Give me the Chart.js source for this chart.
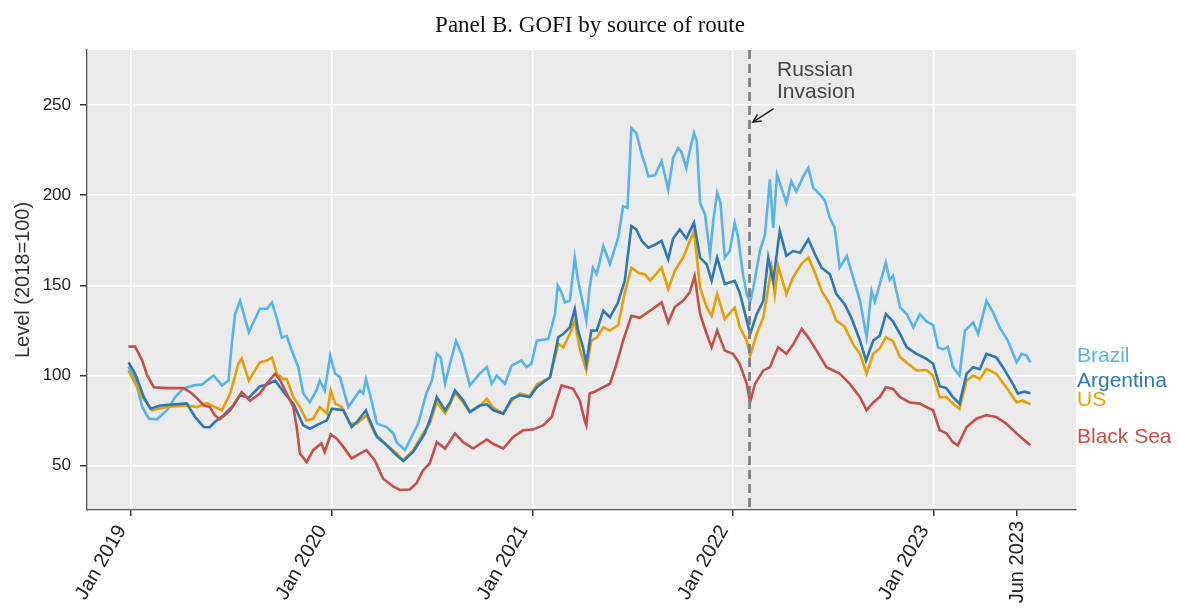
<!DOCTYPE html>
<html><head><meta charset="utf-8">
<script src="https://cdn.jsdelivr.net/npm/chart.js@4.4.1/dist/chart.umd.min.js"></script>
<style>html,body{margin:0;padding:0;background:#fff}canvas{display:block}</style>
</head><body>
<canvas id="c" width="1178" height="611"></canvas>
<script>
// ---------- DATA (x = days since 1 Jan 2019, y = level, 2018=100) ----------
const title = 'Panel B. GOFI by source of route';
const yTitle = 'Level (2018=100)';
const seriesNames = ['Brazil', 'Argentina', 'US', 'Black Sea'];

const brazilDays = [-4,8,21,33,48,66,81,96,115,130,139,151,166,178,184,190,199,215,235,248,257,266,275,284,293,305,314,326,338,344,353,363,372,381,396,417,423,428,435,448,466,478,484,499,514,523,538,548,557,564,572,581,592,602,617,635,648,657,666,681,693,711,720,729,739,760,772,777,784,790,799,808,814,823,829,835,841,848,860,872,887,896,904,911,920,930,936,942,954,966,972,978,987,996,1002,1011,1017,1025,1030,1036,1045,1054,1060,1067,1073,1081,1090,1099,1105,1114,1121,1127,1133,1145,1154,1163,1169,1176,1193,1202,1211,1224,1233,1242,1254,1263,1272,1281,1290,1303,1311,1327,1339,1348,1354,1363,1374,1381,1387,1400,1412,1424,1436,1448,1460,1469,1478,1487,1496,1508,1518,1533,1542,1551,1557,1569,1581,1596,1612,1621,1630,1637];
const brazilVals = [105,98,82.5,76,75.7,80.7,88,92.8,94.5,95,97.2,100,94.5,97.2,117.7,134,141.4,124,137,137,140.5,131.5,121,122,113.8,104.6,90,85.2,91.7,97.2,91.7,111,101,99,82.5,91.7,90,98,90,73.3,71.4,67.8,63,58.6,67.8,73.3,90,97.2,112,110,95.4,106.5,119.3,112,94.5,101,104.6,95.4,100,95.4,105.5,108.3,104.6,106.5,119.3,120.3,134,150,146,140.5,141.4,165.4,152.5,139.6,130.4,148.8,159.8,156.2,171.8,161.7,176.4,193.9,193,237.2,234.4,222.5,217,210.5,211,218.8,211,203.1,220.6,226.1,224,215.1,224.3,234.4,230,195.7,189.3,167.2,185.6,201.3,196,165.4,169.1,184.7,177,156.2,145.1,140.5,148.8,169.1,178,208.7,181.9,211.4,195.7,207.7,202,210.5,215.1,204,200.4,197,187.5,181.9,159.8,166.3,158,141.4,121.2,147,141,150.7,162.6,153,155.2,137.7,134.1,126.7,134,130,128,115.6,114.5,116,104.6,100,124.9,129.4,123,134,141.4,135,126.7,119.3,107.3,112,111,107.3];

const argentinaDays = [-4,8,24,36,54,80,102,117,133,144,153,169,187,199,215,235,248,263,278,296,314,326,344,357,366,387,402,414,428,435,448,466,484,496,514,535,544,557,572,581,590,605,617,635,648,660,678,693,708,726,739,763,778,787,799,808,814,823,829,838,848,860,872,886,899,911,920,930,942,954,966,978,987,999,1011,1025,1036,1048,1057,1067,1081,1099,1108,1121,1127,1139,1151,1160,1169,1181,1193,1205,1218,1233,1245,1257,1272,1284,1299,1311,1327,1338,1351,1363,1374,1387,1400,1412,1430,1448,1460,1472,1484,1496,1508,1521,1533,1545,1557,1575,1587,1605,1614,1626,1637];
const argentinaVals = [107.3,101,88,81.6,83.4,84,84.5,77,71.4,71.3,74.2,78,83.4,89,87.7,94,95,97.2,90.8,84.4,72.4,70.5,73.3,75.1,81.6,80.7,71.4,75.1,80.7,75.1,65.9,61.3,55.8,52.6,57.6,67.8,75,88,80.7,85,91.7,86.2,79.7,83.4,84,80.7,78.8,87.1,89,88,93.5,99,121.2,123,126.7,136.8,124.9,115.6,106.5,124.9,125,135.9,132.2,140,152.5,182.9,181,174.6,170.9,172.5,174.6,164.5,176,181,176,184.7,165.4,161.7,152.5,165.4,150.7,152.5,146,130.4,123,134,141.4,165.4,152,180.1,166.3,169,168,175.5,167.2,159.8,156.2,145.1,139.6,132.2,119.3,108.3,119.3,122,134.1,130,123,115.6,112,109.2,106.5,94,93,88,84.4,101,104.6,103.5,112,110,104.6,95.4,90,91,90.2];

const usDays = [-4,21,39,66,102,121,139,153,166,181,196,202,215,235,248,257,266,278,284,296,308,320,332,344,357,364,372,384,399,411,429,444,466,484,496,514,532,544,557,572,581,590,605,617,635,648,660,678,693,708,726,739,763,778,787,799,808,817,829,838,848,860,872,887,899,911,924,936,945,966,978,990,1005,1014,1025,1036,1048,1057,1067,1081,1099,1108,1121,1127,1139,1151,1157,1166,1172,1178,1193,1205,1220,1233,1245,1257,1272,1284,1299,1314,1327,1339,1351,1363,1374,1387,1400,1412,1430,1448,1460,1472,1484,1496,1508,1521,1533,1545,1557,1575,1593,1612,1623,1637];
const usVals = [102.8,88,80.7,82.5,83.4,82.5,84.7,82.5,80.7,90,106.6,109.4,97.2,107.3,108.3,110,101,98,98,88,82.5,75.1,76,82.5,78.8,91.7,84.4,82.5,73.3,73.3,78,67.8,61.3,56.7,53,58.6,67.8,73.3,85.2,79,84,90.5,85,79.7,83,87.1,82,78.8,86,90,88.5,95,99,117.5,115.6,123,130.4,114.7,102.8,119.3,121,126.7,124.9,128,146,159.8,157,156,152.5,159.8,147.9,158,165.4,172,180.1,148.8,137.7,133,145.1,131.3,137.7,127,119.3,111,123,132.2,143,159.8,145.1,160.8,145.1,154.3,161.7,165.4,157,147,139.6,130.4,127,117.5,112,101,112,115,121.2,119,110.1,107,102.8,103,100,88,88,84.4,81.6,97.2,100,98,103.7,101,93.5,85.2,86,84];

const blackSeaDays = [-4,8,21,30,42,66,96,108,121,133,144,153,162,181,202,217,235,248,263,272,296,302,308,320,332,347,353,364,375,387,402,417,429,444,459,478,490,508,520,532,544,557,572,590,605,623,648,660,678,696,714,732,751,766,775,784,805,817,826,829,835,844,860,872,884,896,911,926,945,966,978,990,1005,1017,1026,1036,1048,1057,1067,1081,1096,1108,1121,1127,1136,1151,1163,1178,1193,1205,1221,1233,1248,1266,1290,1308,1327,1339,1351,1363,1374,1387,1400,1418,1436,1448,1460,1472,1484,1496,1505,1521,1539,1557,1575,1593,1612,1637];
const blackSeaVals = [116,116,108.3,100,93.5,93,93,90.8,87.3,83.4,82.5,78,75.7,80.7,90.8,86,90,95.6,101,97.2,82.5,71.4,56.7,52,58.6,62.3,57.6,67.4,65,60.4,54,56.7,58.6,53,42.9,38.3,36.5,36.8,40.2,47.5,51.2,63,59.5,67.8,63,59.5,64.5,62,59.5,65.9,69.6,70,72.4,77,86.2,94.5,92.6,86.2,75.1,72.4,90,91,93.5,95.4,106.5,119.3,133.1,132,135.9,140.5,129.4,138,141.4,146,155.2,134.1,123,115.6,124.9,113.8,112,106.5,95.4,85.2,95.4,102.8,104.5,115.6,112,117,125.8,121,113.8,104.6,101,95.5,88,80.7,85,88,93.5,92.5,88,85,84.4,82.5,80.7,69.6,68,63,61.3,71.4,76,78,77,73.3,67.8,61.3];

const tickDays = [0, 365, 731, 1096, 1461, 1612];
const tickLabels = ['Jan 2019', 'Jan 2020', 'Jan 2021', 'Jan 2022', 'Jan 2023', 'Jun 2023'];
const yTicks = [50, 100, 150, 200, 250];
const invasionDay = 1126;
const invasionText = ['Russian', 'Invasion'];

// ---------- STYLE ----------
const SANS = '"Liberation Sans", Arial, Helvetica, sans-serif';
const SERIF = '"Liberation Serif", "Times New Roman", serif';
const COLORS = ['#56B4E9', '#2a78b5', '#E69F00', '#c4504a'];
const LABEL_LEVELS = [107.6, 93.8, 83.1, 62.4];
const ORDERS = [4, 2, 3, 1];

function pts(d, v) { return d.map((x, i) => ({ x: x, y: v[i] })); }
const seriesData = [
  pts(brazilDays, brazilVals),
  pts(argentinaDays, argentinaVals),
  pts(usDays, usVals),
  pts(blackSeaDays, blackSeaVals)
];

const bgPlugin = {
  id: 'bg',
  beforeDraw(chart) {
    const { ctx, chartArea: a } = chart;
    ctx.save();
    ctx.fillStyle = '#ffffff';
    ctx.fillRect(0, 0, chart.width, chart.height);
    ctx.fillStyle = '#EAEAEA';
    ctx.fillRect(a.left, a.top, a.right - a.left, a.bottom - a.top);
    ctx.restore();
  }
};

const overlayPlugin = {
  id: 'overlay',
  afterDatasetsDraw(chart) {
    const { ctx, chartArea: a } = chart;
    const xs = chart.scales.x, ys = chart.scales.y;
    // invasion line
    const ix = xs.getPixelForValue(invasionDay);
    ctx.save();
    ctx.strokeStyle = '#7a7a7a';
    ctx.lineWidth = 2.6;
    ctx.setLineDash([9, 5]);
    ctx.beginPath();
    ctx.moveTo(ix, a.top);
    ctx.lineTo(ix, a.bottom);
    ctx.stroke();
    ctx.restore();
  },
  afterDraw(chart) {
    const { ctx, chartArea: a } = chart;
    const xs = chart.scales.x, ys = chart.scales.y;
    ctx.save();
    // title
    ctx.fillStyle = '#111';
    ctx.font = '23px ' + SERIF;
    ctx.textAlign = 'center';
    ctx.textBaseline = 'alphabetic';
    ctx.fillText(title, 590, 32);
    // y title
    ctx.save();
    ctx.translate(23, (a.top + a.bottom) / 2);
    ctx.rotate(-Math.PI / 2);
    ctx.font = '20px ' + SANS;
    ctx.fillStyle = '#333';
    ctx.textAlign = 'center';
    ctx.textBaseline = 'middle';
    ctx.fillText(yTitle, 0, 0);
    ctx.restore();
    // x tick labels
    ctx.font = '20px ' + SANS;
    ctx.fillStyle = '#222';
    tickDays.forEach((d, i) => {
      const x = xs.getPixelForValue(d);
      ctx.save();
      if (i === tickDays.length - 1) {
        ctx.translate(x + 1, a.bottom + 11);
        ctx.rotate(-Math.PI / 2);
      } else {
        ctx.translate(x - 9, a.bottom + 17);
        ctx.rotate(-Math.PI / 3);
      }
      ctx.textAlign = 'right';
      ctx.textBaseline = 'middle';
      ctx.fillText(tickLabels[i], 0, 0);
      ctx.restore();
    });
    // end labels
    ctx.font = '21px ' + SANS;
    ctx.textAlign = 'left';
    ctx.textBaseline = 'alphabetic';
    seriesNames.forEach((n, i) => {
      ctx.fillStyle = COLORS[i];
      ctx.fillText(n, a.right + 1, ys.getPixelForValue(LABEL_LEVELS[i]));
    });
    // annotation
    ctx.fillStyle = '#444';
    ctx.font = '21px ' + SANS;
    const tx = xs.getPixelForValue(invasionDay + 50);
    ctx.fillText(invasionText[0], tx, ys.getPixelForValue(266));
    ctx.fillText(invasionText[1], tx, ys.getPixelForValue(254));
    // arrow
    const x0 = xs.getPixelForValue(invasionDay + 44), y0 = ys.getPixelForValue(248);
    const x1 = xs.getPixelForValue(invasionDay + 6), y1 = ys.getPixelForValue(240.5);
    ctx.strokeStyle = '#222';
    ctx.lineWidth = 1.4;
    ctx.beginPath();
    ctx.moveTo(x0, y0); ctx.lineTo(x1, y1);
    const ang = Math.atan2(y1 - y0, x1 - x0);
    const L = 9, spread = 0.45;
    ctx.moveTo(x1 - L * Math.cos(ang - spread), y1 - L * Math.sin(ang - spread));
    ctx.lineTo(x1, y1);
    ctx.lineTo(x1 - L * Math.cos(ang + spread), y1 - L * Math.sin(ang + spread));
    ctx.stroke();
    ctx.restore();
  }
};

new Chart(document.getElementById('c'), {
  type: 'line',
  data: {
    datasets: seriesNames.map((n, i) => ({
      label: n,
      data: seriesData[i],
      borderColor: COLORS[i],
      backgroundColor: COLORS[i],
      borderWidth: 2.6,
      pointRadius: 0,
      tension: 0,
      fill: false,
      order: ORDERS[i]
    }))
  },
  options: {
    responsive: false,
    animation: false,
    parsing: true,
    layout: { padding: { top: 50, right: 102, bottom: 0, left: 0 } },
    plugins: { legend: { display: false }, tooltip: { enabled: false }, title: { display: false } },
    scales: {
      x: {
        type: 'linear',
        min: -79.5,
        max: 1720,
        afterBuildTicks: s => { s.ticks = tickDays.map(v => ({ value: v })); },
        afterFit: s => { s.height = 101; },
        ticks: { display: false },
        grid: {
          color: c => (c.tick && c.tick.value === 1612) ? 'rgba(0,0,0,0)' : '#ffffff',
          lineWidth: 1.5,
          tickColor: '#333',
          tickLength: 6,
          drawTicks: true
        },
        border: { display: true, color: '#555', width: 1.3 }
      },
      y: {
        min: 25.4,
        max: 280.5,
        afterBuildTicks: s => { s.ticks = yTicks.map(v => ({ value: v })); },
        afterFit: s => { s.width = 87; },
        ticks: { font: { size: 17, family: SANS }, color: '#222', padding: 9 },
        grid: { color: '#ffffff', lineWidth: 1.5, tickColor: '#333', tickLength: 7 },
        border: { display: true, color: '#555', width: 1.3 }
      }
    }
  },
  plugins: [bgPlugin, overlayPlugin]
});
</script>
</body></html>
